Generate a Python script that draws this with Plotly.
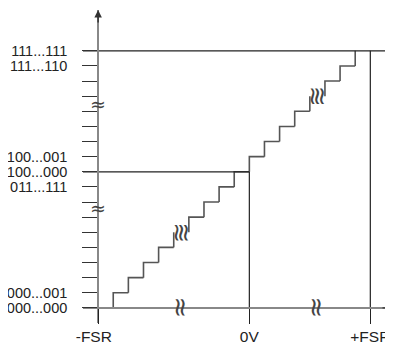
import plotly.graph_objects as go

# ---- data (in LSB units; x = 0 at -FSR) ----
code_levels = list(range(18))                     # output codes drawn
code_labels = {0: "000...000", 1: "000...001", 8: "011...111", 9: "100...000",
               10: "100...001", 16: "111...110", 17: "111...111"}
step_x = [1, 2, 3, 4, 5, 6, 7, 8, 9, 10, 11, 12, 13, 14, 15, 16, 17]   # transition positions
step_code = [1, 2, 3, 4, 5, 6, 7, 8, 9, 10, 11, 12, 13, 14, 15, 16, 17]
break_codes = [5, 14]                              # codes where the staircase is broken
x_tick_vals = [0, 10, 18]
x_tick_text = ["-FSR\u00a0\u00a0", "0V", "+FSR"]
full_scale_code = 17
mid_code = 9
x_range = [-1, 19.5]
y_range = [-1, 19.7]

# ---- build staircase segments ----
sx, sy = [], []
for i, (x, c) in enumerate(zip(step_x, step_code)):
    sx += [x, x]
    sy += [c - 1, c]
    if c not in break_codes and i + 1 < len(step_x):
        sx += [step_x[i + 1]]
        sy += [c]
    sx.append(None)
    sy.append(None)

fig = go.Figure()
fig.add_trace(go.Scatter(x=sx, y=sy, mode="lines",
                         line=dict(color="#555555", width=1.6), hoverinfo="skip"))
# reference lines
fig.add_trace(go.Scatter(x=[x_range[0], 19.05], y=[full_scale_code, full_scale_code], mode="lines",
                         line=dict(color="#222222", width=1.2), hoverinfo="skip"))
fig.add_trace(go.Scatter(x=[x_range[0], x_tick_vals[1]], y=[mid_code, mid_code], mode="lines",
                         line=dict(color="#222222", width=1.2), hoverinfo="skip"))
fig.add_trace(go.Scatter(x=[x_tick_vals[1], x_tick_vals[1]], y=[0, mid_code], mode="lines",
                         line=dict(color="#222222", width=1.2), hoverinfo="skip"))
fig.add_trace(go.Scatter(x=[x_tick_vals[2], x_tick_vals[2]], y=[0, full_scale_code], mode="lines",
                         line=dict(color="#222222", width=1.2), hoverinfo="skip"))

font = dict(family="Liberation Sans, Arial, sans-serif", color="#222222")

annotations = []
# axis arrows
annotations.append(dict(x=0, y=y_range[1], xref="x", yref="y", ax=0, ay=14, text="",
                        showarrow=True, arrowhead=2, arrowsize=1, arrowwidth=1.5,
                        arrowcolor="#333333"))
annotations.append(dict(x=x_range[1], y=0, xref="x", yref="y", ax=-12, ay=0, text="",
                        showarrow=True, arrowhead=2, arrowsize=1, arrowwidth=1.2,
                        arrowcolor="#333333"))
# break marks
brk_font = dict(family="DejaVu Sans", color="#444444")
for yb in [6.6, 13.5]:
    annotations.append(dict(x=0, y=yb, xref="x", yref="y", text="≈", showarrow=False,
                            font=dict(size=19, **brk_font)))
for xb in [5.5, 14.5]:
    annotations.append(dict(x=xb, y=0, xref="x", yref="y", text="≈", showarrow=False,
                            textangle=90, font=dict(size=26, **brk_font)))
for xb, yb in [(5.55, 5), (14.5, 14)]:
    annotations.append(dict(x=xb, y=yb, xref="x", yref="y", text="≋", showarrow=False,
                            textangle=90, font=dict(size=25, **brk_font)))

fig.update_layout(
    width=385, height=336,
    margin=dict(l=75, r=0, t=2, b=21),
    paper_bgcolor="white", plot_bgcolor="white",
    showlegend=False,
    font=font,
    annotations=annotations,
    xaxis=dict(range=x_range, showgrid=False, zeroline=False,
               showline=True, linecolor="#888888", linewidth=1.5,
               anchor="free", position=(0 - y_range[0]) / (y_range[1] - y_range[0]),
               tickvals=x_tick_vals, ticktext=x_tick_text,
               ticks="outside", ticklen=15, tickcolor="#222222", tickwidth=1.2,
               tickfont=dict(size=15.5, family=font["family"], color="#222222"),
               automargin=False, fixedrange=True),
    yaxis=dict(range=y_range, showgrid=False, zeroline=False,
               showline=True, linecolor="#888888", linewidth=1.8,
               anchor="free", position=(0 - x_range[0]) / (x_range[1] - x_range[0]),
               tickvals=code_levels, ticktext=[code_labels.get(c, "") for c in code_levels],
               ticks="outside", ticklen=15, tickcolor="#333333", tickwidth=1.2,
               tickfont=dict(size=14.5, family=font["family"], color="#222222"),
               ticklabelstandoff=12,
               automargin=False, fixedrange=True),
)

fig.write_html("out.html", config={"displayModeBar": False})
